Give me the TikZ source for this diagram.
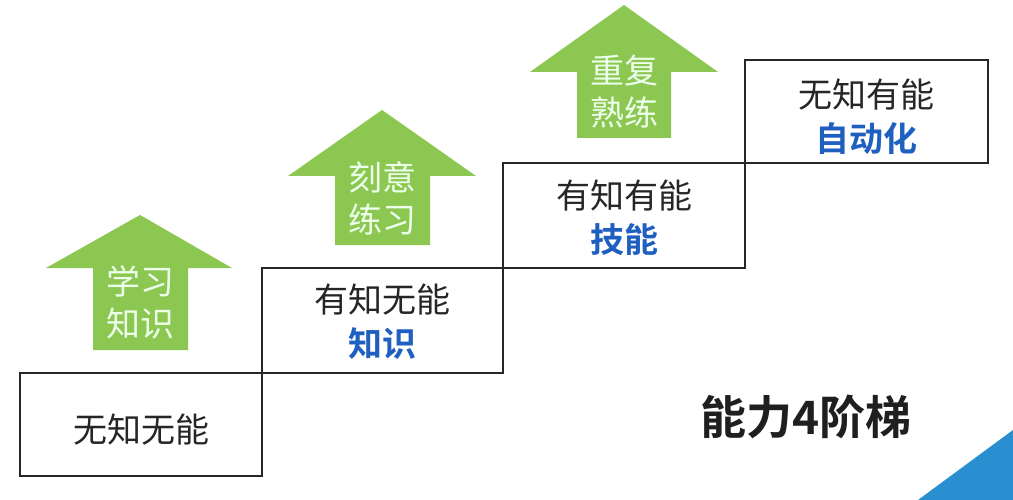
\documentclass[tikz,border=0pt]{standalone}
\usepackage{fontspec}
\setmainfont{Noto Sans CJK SC}
\newfontfamily\cjkb{Noto Sans CJK SC Bold}
\definecolor{arrowgreen}{HTML}{8CC751}
\definecolor{txtblue}{HTML}{1F5FBF}
\definecolor{cornerblue}{HTML}{2A8FD0}
\begin{document}
\begin{tikzpicture}[x=1pt,y=-1pt,
  stepbox/.style={draw=black!85,line width=2.6pt,fill=white},
  boxtext/.style={align=center,font=\fontsize{34}{44}\selectfont,text=black!85},
  arrtext/.style={align=center,font=\fontsize{34}{42}\selectfont,text=white!92!green},
  greenarrow/.style={fill=arrowgreen,draw=none}]
\useasboundingbox (0,0) rectangle (1013,500);
\fill[white] (0,0) rectangle (1013,500);
\fill[cornerblue] (918,500) -- (1013,430) -- (1013,500) -- cycle;
% steps
\draw[stepbox] (20,373) rectangle (262,476);
\draw[stepbox] (262,268) rectangle (503,373);
\draw[stepbox] (503,163) rectangle (745,268);
\draw[stepbox] (745,60) rectangle (988,163);
\node[boxtext] (s1) at (141,430) {无知无能};
\node[boxtext] (s2) at (382,322) {有知无能\\{\cjkb\color{txtblue}知识}};
\node[boxtext] (s3) at (624,218) {有知有能\\{\cjkb\color{txtblue}技能}};
\node[boxtext] (s4) at (866,117) {无知有能\\{\cjkb\color{txtblue}自动化}};
% arrows
\fill[greenarrow] (140,215) -- (232,268) -- (188,268) -- (188,350) -- (93,350) -- (93,268) -- (46,268) -- cycle;
\fill[greenarrow] (382,110) -- (476,176) -- (430,176) -- (430,245) -- (335,245) -- (335,176) -- (288,176) -- cycle;
\fill[greenarrow] (624,5) -- (718,72) -- (671,72) -- (671,138) -- (577,138) -- (577,72) -- (530,72) -- cycle;
\node[arrtext] (a1) at (140,302) {学习\\知识};
\node[arrtext] (a2) at (382,198) {刻意\\练习};
\node[arrtext] (a3) at (624,92) {重复\\熟练};
\node[font=\cjkb\fontsize{46}{52}\selectfont,text=black!88] (title) at (806,417) {能力4阶梯};
\end{tikzpicture}
\end{document}
